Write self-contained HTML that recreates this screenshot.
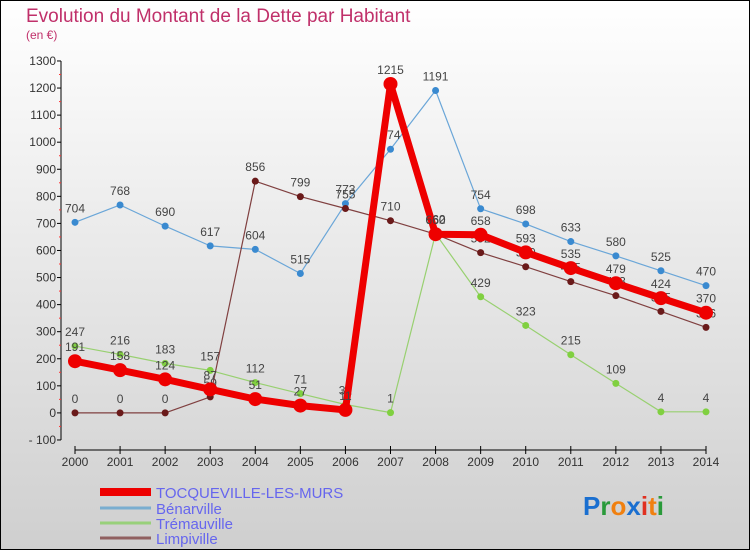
<!DOCTYPE html>
<html><head><meta charset="utf-8"><style>
html,body{margin:0;padding:0}
body{width:750px;height:550px;overflow:hidden;font-family:"Liberation Sans",sans-serif}
svg text{font-family:"Liberation Sans",sans-serif}
</style></head><body>
<svg id="chart" width="750" height="550" xmlns="http://www.w3.org/2000/svg">
<defs><linearGradient id="bg" x1="0" y1="0" x2="0" y2="1"><stop offset="0" stop-color="#ffffff"/><stop offset="1" stop-color="#cfcfcf"/></linearGradient></defs>
<rect x="0.5" y="0.5" width="749" height="549" fill="url(#bg)" stroke="#000"/>
<text x="26" y="22" font-size="19" fill="#c0306a">Evolution du Montant de la Dette par Habitant</text>
<text x="26" y="39" font-size="12" fill="#c0306a">(en €)</text>
<g id="axes"></g>
<g id="series"></g>
<g>
<line x1="100" y1="492" x2="151" y2="492" stroke="#e00" stroke-width="8"/>
<line x1="100" y1="508" x2="151" y2="508" stroke="#7aaed0" stroke-width="3"/>
<line x1="100" y1="523" x2="151" y2="523" stroke="#98d07a" stroke-width="3"/>
<line x1="100" y1="538" x2="151" y2="538" stroke="#906060" stroke-width="3"/>
<text x="156" y="498" font-size="15" fill="#6666ee">TOCQUEVILLE-LES-MURS</text>
<text x="156" y="514" font-size="15" fill="#6666ee">Bénarville</text>
<text x="156" y="529" font-size="15" fill="#6666ee">Trémauville</text>
<text x="156" y="544" font-size="15" fill="#6666ee">Limpiville</text>
</g>
<text x="583" y="515" font-size="26" font-weight="bold"><tspan fill="#1a6fd0">P</tspan><tspan fill="#2a9a3a">r</tspan><tspan fill="#f08010">o</tspan><tspan fill="#1a6fd0">x</tspan><tspan fill="#e03020">i</tspan><tspan fill="#f08010">t</tspan><tspan fill="#2a9a3a">i</tspan></text>
</svg>
<script>
const years=[2000,2001,2002,2003,2004,2005,2006,2007,2008,2009,2010,2011,2012,2013,2014];
const yTicks=[-100,0,100,200,300,400,500,600,700,800,900,1000,1100,1200,1300];
const tocqueville=[191,158,124,87,51,27,11,1215,660,658,593,535,479,424,370];
const benarville=[704,768,690,617,604,515,773,974,1191,754,698,633,580,525,470];
const tremauville=[247,216,183,157,112,71,31,1,662,429,323,215,109,4,4];
const limpiville=[0,0,0,59,856,799,755,710,660,592,540,485,433,375,316];
const NS="http://www.w3.org/2000/svg";
function X(i){return 75+i*(706-75)/(years.length-1);}
function Y(v){return 412.9-v*(379/1400);}
function mk(tag,attrs,parent){const e=document.createElementNS(NS,tag);for(const k in attrs)e.setAttribute(k,attrs[k]);parent.appendChild(e);return e;}
const ax=document.getElementById('axes');
let l=mk('line',{x1:61,y1:Y(1300),x2:61,y2:Y(-100),stroke:'#000'},ax);


yTicks.forEach(v=>{
 mk('line',{x1:57,y1:Y(v),x2:61,y2:Y(v),stroke:'#000'},ax);
 if(v<1300) mk('line',{x1:59,y1:Y(v+50),x2:61,y2:Y(v+50),stroke:'#f33'},ax);
 const t=mk('text',{x:56,y:Y(v)+4,'font-size':12,'text-anchor':'end',fill:'#333'},ax);
 
 
 t.textContent=v<0?'- '+(-v):v;
});
l=mk('line',{x1:X(0),y1:450,x2:X(years.length-1),y2:450,stroke:'#000'},ax);


years.forEach((yr,i)=>{
 mk('line',{x1:X(i),y1:446,x2:X(i),y2:454,stroke:'#000'},ax);
 const t=mk('text',{x:X(i),y:466,'font-size':12,'text-anchor':'middle',fill:'#333'},ax);
 
 
 t.textContent=yr;
});
const sg=document.getElementById('series');
function draw(vals,name,color,w,r,pt){
 const g=mk('g',{},sg);
 
 
 const p=mk('polyline',{points:vals.map((v,i)=>X(i)+','+Y(v)).join(' '),fill:'none',stroke:color,'stroke-width':w,'stroke-linejoin':'round'},g);
 
 
 vals.forEach((v,i)=>{
  const c=mk('circle',{cx:X(i),cy:Y(v),r:r,fill:pt},g);
  
  
  const t=mk('text',{x:X(i),y:Y(v)-10,'font-size':12,'text-anchor':'middle',fill:'#444'},g);
  
  
  t.textContent=v;
 });
}
draw(benarville,'benarville','#6aa6d8',1.2,3.5,'#3a8ad0');
draw(tremauville,'tremauville','#98d070',1.2,3.5,'#80d040');
draw(limpiville,'limpiville','#804040',1.2,3.5,'#6a1a1a');
draw(tocqueville,'tocqueville','#ee0000',7,7,'#ee0000');
</script>
</body></html>
